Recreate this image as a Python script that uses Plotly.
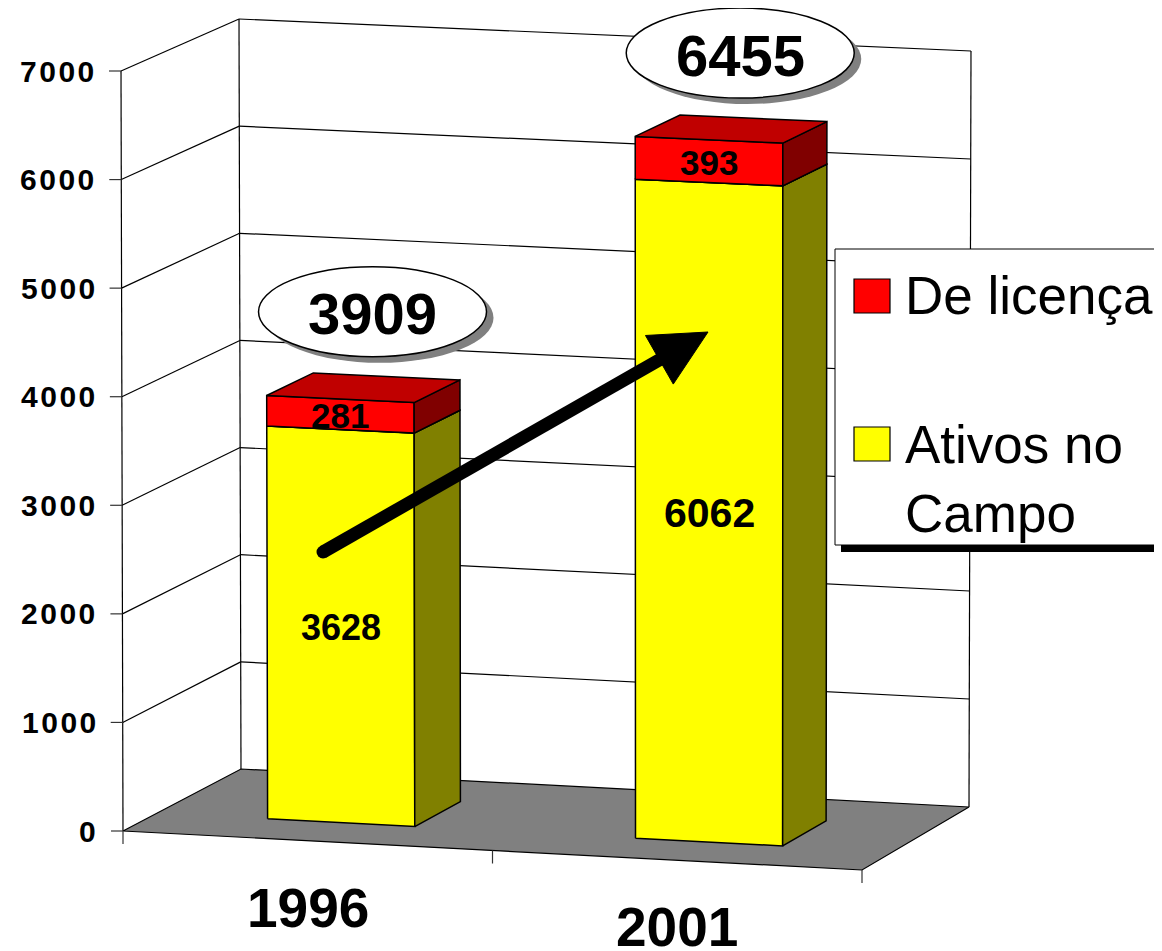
import plotly.graph_objects as go

# ---------------- data ----------------
YEARS = ["1996", "2001"]
ATIVOS = [3628, 6062]          # Ativos no Campo (yellow)
LICENCA = [281, 393]           # De licença (red)
TOTALS = [3909, 6455]
Y_TICKS = [0, 1000, 2000, 3000, 4000, 5000, 6000, 7000]
SERIES = ["De licença", "Ativos no Campo"]
YMAX = 7000

# ---------------- 3D look (projection of the chart box) ----------------
W, H = 1162, 951
PAGE_OFF = 8   # default page margin of the html body
CORNERS = {
    (0, 0, 0): (123, 831), (0, 1, 0): (121, 71),
    (0, 0, 1): (241, 769), (0, 1, 1): (239, 19),
    (1, 0, 0): (862, 870), (1, 1, 0): (862, 104),
    (1, 0, 1): (969, 807), (1, 1, 1): (971, 51),
}
BAR_HALF = 0.1
Z0, Z1 = 0.29, 0.69
FONT = "Liberation Sans, Arial, sans-serif"


def proj(X, v, Z):
    Y = v / YMAX
    px = py = 0.0
    for (a, b, c), (cx, cy) in CORNERS.items():
        w = (X if a else 1 - X) * (Y if b else 1 - Y) * (Z if c else 1 - Z)
        px += w * cx
        py += w * cy
    return px, py


fig = go.Figure()


def poly(pts, fill, name, lw=1.5):
    xs = [p[0] for p in pts] + [pts[0][0]]
    ys = [p[1] for p in pts] + [pts[0][1]]
    fig.add_trace(go.Scatter(x=xs, y=ys, mode="lines", fill="toself", fillcolor=fill,
                             line=dict(color="black", width=lw), name=name,
                             hoverinfo="skip", showlegend=False))


def lines(segs, width=1, color="black"):
    xs, ys = [], []
    for (p, q) in segs:
        xs += [p[0], q[0], None]
        ys += [p[1], q[1], None]
    fig.add_trace(go.Scatter(x=xs, y=ys, mode="lines", line=dict(color=color, width=width),
                             hoverinfo="skip", showlegend=False))


# walls: gridlines + edges
segs = []
for v in Y_TICKS[1:]:
    segs.append((proj(0, v, 0), proj(0, v, 1)))
    segs.append((proj(0, v, 1), proj(1, v, 1)))
segs.append((proj(0, 0, 0), proj(0, YMAX, 0)))
segs.append((proj(0, 0, 1), proj(0, YMAX, 1)))
segs.append((proj(1, 0, 1), proj(1, YMAX, 1)))
lines(segs, width=1.2)

# floor
poly([proj(0, 0, 0), proj(1, 0, 0), proj(1, 0, 1), proj(0, 0, 1)], "#808080", "floor", lw=1.2)

# ticks
tsegs = []
for v in Y_TICKS:
    x, y = proj(0, v, 0)
    tsegs.append(((x - 12, y), (x, y)))
for X in [0, 0.5, 1]:
    x, y = proj(X, 0, 0)
    tsegs.append(((x, y), (x, y + 13)))
lines(tsegs, width=1.2, color="#333")

annotations = []
for v in Y_TICKS:
    x, y = proj(0, v, 0)
    annotations.append(dict(x=x - 25, y=y, text="\u200a".join(str(v)), showarrow=False,
                            xanchor="right", yanchor="middle",
                            font=dict(family=FONT, size=30, color="black", weight="bold")))

# bars
n = len(YEARS)
label_sizes_y = [36, 41]
for i in range(n):
    c = (i + 0.5) / n
    x0, x1 = c - BAR_HALF, c + BAR_HALF
    segments = [(0, ATIVOS[i], "#FFFF00", "#808000", "#C0C000", SERIES[1]),
                (ATIVOS[i], ATIVOS[i] + LICENCA[i], "#FF0000", "#800000", "#C00000", SERIES[0])]
    for (b, t, cf, cs, ct, nm) in segments:
        poly([proj(x0, b, Z0), proj(x1, b, Z0), proj(x1, t, Z0), proj(x0, t, Z0)], cf, nm)
        poly([proj(x1, b, Z0), proj(x1, b, Z1), proj(x1, t, Z1), proj(x1, t, Z0)], cs, nm)
        poly([proj(x0, t, Z0), proj(x1, t, Z0), proj(x1, t, Z1), proj(x0, t, Z1)], ct, nm)
    # value labels on front face
    for (b, t, val, fs) in [(0, ATIVOS[i], ATIVOS[i], label_sizes_y[i]),
                            (ATIVOS[i], ATIVOS[i] + LICENCA[i], LICENCA[i], 35)]:
        pa = proj(x0, (b + t) / 2, Z0)
        pb = proj(x1, (b + t) / 2, Z0)
        annotations.append(dict(x=(pa[0] + pb[0]) / 2, y=(pa[1] + pb[1]) / 2 + 1, text=str(val),
                                showarrow=False, xanchor="center", yanchor="middle",
                                font=dict(family=FONT, size=fs, color="black", weight="bold")))
    # category label
    cx, cy = proj(c, 0, 0)
    annotations.append(dict(x=cx, y=cy + 67, text=YEARS[i], showarrow=False,
                            xanchor="center", yanchor="middle",
                            font=dict(family=FONT, size=55, color="black", weight="bold")))

# arrow (trend 1996 -> 2001)
ax0, ay0 = 323, 552
tipx, tipy = 708, 332
dx, dy = tipx - ax0, tipy - ay0
L = (dx ** 2 + dy ** 2) ** 0.5
ux, uy = dx / L, dy / L
hl, hw = 56, 28
bx, by = tipx - ux * hl, tipy - uy * hl
fig.add_trace(go.Scatter(x=[ax0, bx + ux * 4], y=[ay0, by + uy * 4], mode="lines",
                         line=dict(color="black", width=13), hoverinfo="skip", showlegend=False))
fig.add_trace(go.Scatter(x=[ax0], y=[ay0], mode="markers", marker=dict(color="black", size=13),
                         hoverinfo="skip", showlegend=False))
fig.add_trace(go.Scatter(x=[tipx, bx - uy * hw, bx + uy * hw, tipx],
                         y=[tipy, by + ux * hw, by - ux * hw, tipy],
                         mode="lines", fill="toself", fillcolor="black",
                         line=dict(color="black", width=1), hoverinfo="skip", showlegend=False))

shapes = []
# total ellipses
for i in range(n):
    c = (i + 0.5) / n
    mx, my = proj(c, TOTALS[i], (Z0 + Z1) / 2)
    ex, ey = mx + 9, my - 76
    rx, ry = 114, 45
    shapes.append(dict(type="circle", xref="x", yref="y", x0=ex - rx + 7, x1=ex + rx + 7,
                       y0=ey - ry + 6, y1=ey + ry + 6, fillcolor="#808080",
                       line=dict(width=0), layer="above"))
    shapes.append(dict(type="circle", xref="x", yref="y", x0=ex - rx, x1=ex + rx,
                       y0=ey - ry, y1=ey + ry, fillcolor="white",
                       line=dict(color="black", width=1.5), layer="above"))
    annotations.append(dict(x=ex, y=ey + 2, text=str(TOTALS[i]), showarrow=False,
                            xanchor="center", yanchor="middle",
                            font=dict(family=FONT, size=58, color="black", weight="bold")))

# legend box
shapes.append(dict(type="rect", xref="x", yref="y", x0=841, x1=1175, y0=255, y1=552,
                   fillcolor="black", line=dict(width=0), layer="above"))
shapes.append(dict(type="rect", xref="x", yref="y", x0=835, x1=1175, y0=249, y1=545,
                   fillcolor="white", line=dict(color="black", width=1), layer="above"))
legend_items = [(SERIES[0], "#FF0000", 296), ("Ativos no<br>Campo", "#FFFF00", 444)]
for (txt, col, yc) in legend_items:
    shapes.append(dict(type="rect", xref="x", yref="y", x0=854, x1=890, y0=yc - 17, y1=yc + 17,
                       fillcolor=col, line=dict(color="black", width=1.2), layer="above"))
annotations.append(dict(x=903, y=295, text=legend_items[0][0], showarrow=False,
                        xanchor="left", yanchor="middle",
                        font=dict(family=FONT, size=53, color="black")))
annotations.append(dict(x=903, y=413, text=legend_items[1][0], showarrow=False,
                        xanchor="left", yanchor="top", align="left",
                        font=dict(family=FONT, size=53, color="black")))

fig.update_layout(
    width=W - PAGE_OFF, height=H - PAGE_OFF, margin=dict(l=0, r=0, t=0, b=0),
    paper_bgcolor="white", plot_bgcolor="white",
    xaxis=dict(range=[PAGE_OFF, W], visible=False, fixedrange=True),
    yaxis=dict(range=[H, PAGE_OFF], visible=False, fixedrange=True),
    shapes=shapes, annotations=annotations, showlegend=False,
)
fig.write_html("out.html")
